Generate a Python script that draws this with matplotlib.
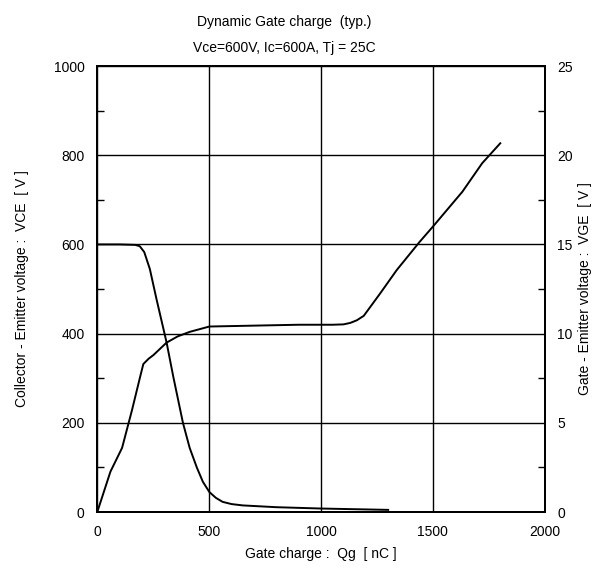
import numpy as np
import matplotlib
matplotlib.use('Agg')
import matplotlib.pyplot as plt
from matplotlib.ticker import MultipleLocator

plt.rcParams['font.family'] = ['Liberation Sans', 'DejaVu Sans']

# collector-emitter voltage VCE [V] vs gate charge [nC]
qg_vce = [0, 100, 170, 190, 210, 235, 265, 310, 340, 383, 413, 445, 472, 501, 530, 560,
          600, 650, 800, 1000, 1200, 1300]
vce = [600, 600, 599, 596, 583, 545, 477, 380, 303, 200, 144, 100, 68, 45, 32, 23,
       18, 15, 11, 8, 6, 5]

# gate-emitter voltage VGE [V] vs gate charge [nC]
qg_vge = [0, 59, 111, 155, 192, 206, 230, 251, 310, 360, 413, 501, 700, 900, 1050, 1100,
          1130, 1160, 1191, 1264, 1338, 1441, 1500, 1632, 1720, 1801]
vge = [0, 2.27, 3.6, 5.7, 7.6, 8.3, 8.6, 8.8, 9.5, 9.85, 10.1, 10.4, 10.45, 10.5, 10.5, 10.52,
       10.6, 10.75, 11.0, 12.25, 13.56, 15.15, 16.0, 17.96, 19.55, 20.67]

fig = plt.figure(figsize=(6.04, 5.69), dpi=100)
ax1 = fig.add_axes([0.161, 0.1, 0.741, 0.784])
ax2 = ax1.twinx()

ax1.plot(qg_vce, vce, color='k', linewidth=1.4)
ax2.plot(qg_vge, vge, color='k', linewidth=1.4)

ax1.set_xlim(0, 2000)
ax1.set_ylim(0, 1000)
ax2.set_ylim(0, 25)
ax1.set_xticks([0, 500, 1000, 1500, 2000])
ax1.set_yticks([0, 200, 400, 600, 800, 1000])
ax2.set_yticks([0, 5, 10, 15, 20, 25])
ax1.set_yticklabels(['0', '200', '400', '600', '800', '1000'])
ax2.set_yticklabels(['0', '5', '10', '15', '20', '25'])
ax1.yaxis.set_minor_locator(MultipleLocator(100))
ax2.yaxis.set_minor_locator(MultipleLocator(2.5))

ax1.grid(True, which='major', color='k', linewidth=1.0)
ax1.tick_params(axis='both', which='major', length=0, labelsize=10, pad=9)
ax1.tick_params(axis='y', which='minor', direction='in', length=5, width=1.0)
ax2.tick_params(axis='y', which='major', length=0, labelsize=10, pad=9)
ax2.tick_params(axis='y', which='minor', direction='in', length=5, width=1.0)

for ax in (ax1, ax2):
    for sp in ax.spines.values():
        sp.set_linewidth(1.4)
        sp.set_color('k')

ax1.set_xlabel('Gate charge :  Qg  [ nC ]', fontsize=10, labelpad=6)
ax1.set_ylabel('Collector - Emitter voltage :  VCE  [ V ]', fontsize=10, labelpad=18)
ax2.set_ylabel('Gate - Emitter voltage :  VGE  [ V ]', fontsize=10, labelpad=4)

fig.text(0.47, 0.962, 'Dynamic Gate charge  (typ.)', ha='center', va='center', fontsize=10)
fig.text(0.47, 0.916, 'Vce=600V, Ic=600A, Tj = 25C', ha='center', va='center', fontsize=10)

fig.savefig('out.png', dpi=100)
